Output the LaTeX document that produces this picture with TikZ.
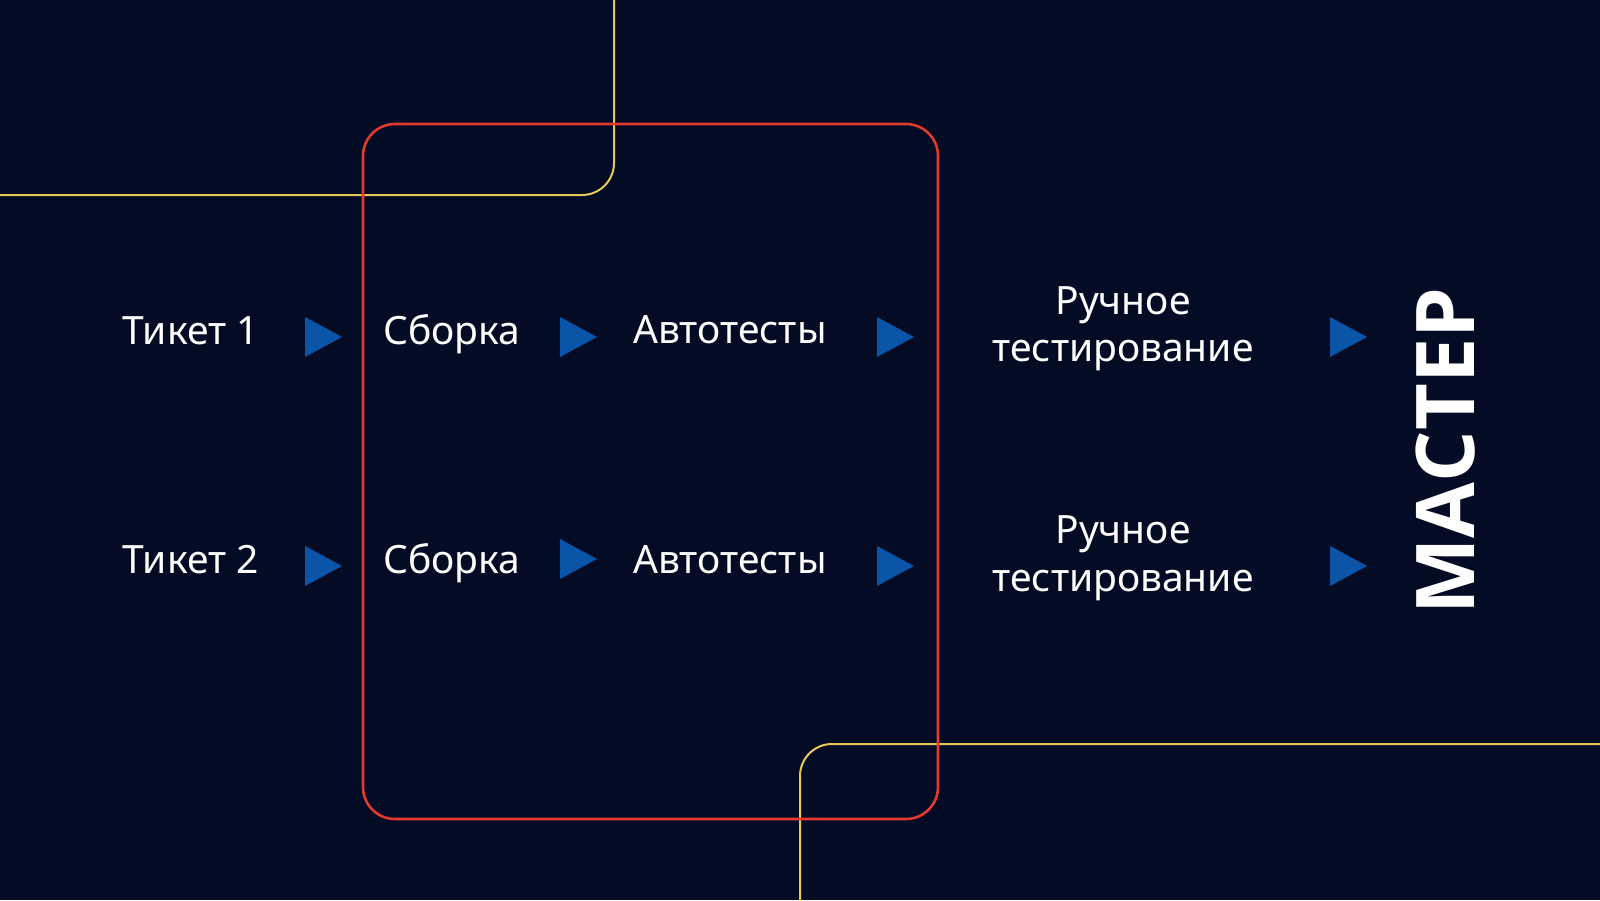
\documentclass[tikz,border=0pt]{standalone}
\usepackage{fontspec}
\setmainfont{Noto Sans}
\newfontfamily\masterfont{Open Sans}
\definecolor{bgnavy}{HTML}{030C24}
\definecolor{redline}{HTML}{E23A2E}
\definecolor{yelline}{HTML}{E6C85A}
\definecolor{triblue}{HTML}{0A55A8}
\begin{document}
\begin{tikzpicture}[x=0.5pt,y=-0.5pt,
  lbl/.style={text=white,font=\fontsize{19.5}{23}\selectfont,inner sep=0pt},
  bigl/.style={text=white,font=\masterfont\bfseries\fontsize{40.5}{44}\selectfont,inner sep=0pt},
  redframe/.style={draw=redline,line width=1.3pt,rounded corners=16pt},
  yframe/.style={draw=yelline,line width=1pt,rounded corners=16pt},
  playtri/.pic={\fill[triblue] (0,-20) -- (37,0) -- (0,20) -- cycle;}]
\useasboundingbox (0,0) rectangle (1600,900);
\fill[bgnavy] (0,0) rectangle (1600,900);
% frames
\draw[yframe] (-5,195) -- (614,195) -- (614,-5);
\draw[yframe] (1605,744) -- (800,744) -- (800,905);
\draw[redframe] (363,124) rectangle (938,819);
% row 1
\node[lbl,anchor=base west] (t1) at (122,344) {Тикет 1};
\node[lbl,anchor=base west] (s1) at (383,344) {Сборка};
\node[lbl,anchor=base west] (a1) at (633,343) {Автотесты};
\node[lbl,anchor=base] (r1a) at (1123,314) {Ручное};
\node[lbl,anchor=base] (r1b) at (1123,361) {тестирование};
\pic at (305,337) {playtri};
\pic at (560,337) {playtri};
\pic at (877,337) {playtri};
\pic at (1330,337) {playtri};
% row 2
\node[lbl,anchor=base west] (t2) at (122,573) {Тикет 2};
\node[lbl,anchor=base west] (s2) at (383,573) {Сборка};
\node[lbl,anchor=base west] (a2) at (633,573) {Автотесты};
\node[lbl,anchor=base] (r2a) at (1123,543) {Ручное};
\node[lbl,anchor=base] (r2b) at (1123,591) {тестирование};
\pic at (305,566) {playtri};
\pic at (560,559) {playtri};
\pic at (877,566) {playtri};
\pic at (1330,566) {playtri};
% master
\node[bigl,rotate=90] (m) at (1446,451) {МАСТЕР};
\end{tikzpicture}
\end{document}
